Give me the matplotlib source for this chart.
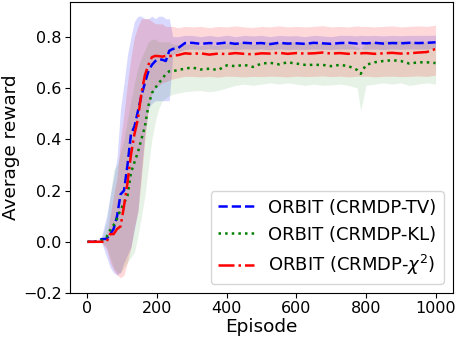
import numpy as np
import matplotlib
matplotlib.use("Agg")
import matplotlib.pyplot as plt

# Episodios (eje x)
episodes = [0, 20, 40, 55, 65, 75, 85, 95, 105, 115, 125, 135, 145, 155, 165,
            175, 185, 195, 205, 215, 225, 235, 245, 260, 280, 300, 325, 350,
            375, 400, 425, 450, 475, 500, 525, 550, 575, 600, 625, 650, 675,
            700, 725, 750, 775, 785, 800, 825, 850, 875, 900, 925, 950, 975, 1000]

# ORBIT (CRMDP-TV)
tv_mean = [0, 0, 0.01, 0.012, 0.03, 0.05, 0.10, 0.185, 0.20, 0.30, 0.42, 0.45,
           0.51, 0.57, 0.62, 0.665, 0.69, 0.705, 0.712, 0.71, 0.705, 0.745,
           0.752, 0.755, 0.775, 0.776, 0.772, 0.775, 0.773, 0.777, 0.772,
           0.776, 0.774, 0.775, 0.771, 0.776, 0.773, 0.774, 0.772, 0.776,
           0.774, 0.772, 0.775, 0.776, 0.773, 0.775, 0.774, 0.776, 0.773,
           0.775, 0.774, 0.776, 0.775, 0.776, 0.778]
tv_low = [0, 0, 0, -0.06, -0.10, -0.12, -0.13, -0.12, -0.08, -0.05, -0.02,
          0.05, 0.12, 0.28, 0.42, 0.52, 0.54, 0.55, 0.55, 0.55, 0.55, 0.55,
          0.73, 0.74, 0.75, 0.752, 0.75, 0.752, 0.75, 0.753, 0.75, 0.752,
          0.751, 0.752, 0.749, 0.752, 0.75, 0.751, 0.75, 0.752, 0.751, 0.75,
          0.752, 0.752, 0.75, 0.752, 0.751, 0.752, 0.75, 0.752, 0.751, 0.752,
          0.752, 0.752, 0.754]
tv_high = [0, 0, 0.02, 0.10, 0.18, 0.25, 0.33, 0.52, 0.62, 0.73, 0.80, 0.86,
           0.88, 0.88, 0.87, 0.87, 0.88, 0.87, 0.88, 0.88, 0.87, 0.87, 0.80,
           0.80, 0.805, 0.805, 0.80, 0.805, 0.80, 0.806, 0.80, 0.805, 0.803,
           0.805, 0.80, 0.805, 0.803, 0.804, 0.80, 0.805, 0.803, 0.80, 0.805,
           0.805, 0.803, 0.805, 0.804, 0.805, 0.803, 0.805, 0.804, 0.805,
           0.805, 0.805, 0.806]

# ORBIT (CRMDP-KL)
kl_mean = [0, 0, 0.005, 0.02, 0.045, 0.065, 0.09, 0.125, 0.15, 0.18, 0.27,
           0.31, 0.35, 0.40, 0.45, 0.53, 0.58, 0.60, 0.62, 0.635, 0.655,
           0.665, 0.665, 0.67, 0.675, 0.68, 0.672, 0.675, 0.67, 0.688, 0.685,
           0.69, 0.682, 0.695, 0.698, 0.692, 0.70, 0.695, 0.69, 0.69, 0.69,
           0.685, 0.69, 0.685, 0.67, 0.655, 0.69, 0.70, 0.705, 0.708, 0.705,
           0.695, 0.70, 0.70, 0.697]
kl_low = [0, 0, 0, -0.02, -0.06, -0.10, -0.12, -0.12, -0.10, -0.08, -0.06,
          -0.04, 0.02, 0.10, 0.18, 0.29, 0.40, 0.47, 0.52, 0.55, 0.56, 0.57,
          0.575, 0.58, 0.585, 0.588, 0.59, 0.585, 0.59, 0.60, 0.61, 0.615,
          0.61, 0.615, 0.62, 0.615, 0.62, 0.615, 0.61, 0.615, 0.61, 0.612,
          0.615, 0.61, 0.60, 0.51, 0.61, 0.615, 0.62, 0.615, 0.62, 0.61,
          0.615, 0.62, 0.615]
kl_high = [0, 0, 0.01, 0.08, 0.18, 0.28, 0.30, 0.35, 0.40, 0.48, 0.55, 0.62,
           0.68, 0.72, 0.75, 0.78, 0.79, 0.79, 0.78, 0.78, 0.78, 0.78, 0.77,
           0.77, 0.77, 0.77, 0.765, 0.77, 0.765, 0.775, 0.775, 0.78, 0.77,
           0.78, 0.78, 0.775, 0.78, 0.78, 0.775, 0.775, 0.775, 0.77, 0.775,
           0.77, 0.76, 0.75, 0.775, 0.78, 0.785, 0.785, 0.785, 0.78, 0.78,
           0.78, 0.78]

# ORBIT (CRMDP-chi^2)
chi_mean = [0, 0, 0, 0, 0.03, 0.03, 0.05, 0.06, 0.14, 0.23, 0.34, 0.42,
            0.48, 0.58, 0.65, 0.69, 0.72, 0.725, 0.724, 0.722, 0.725, 0.724,
            0.726, 0.728, 0.735, 0.733, 0.735, 0.73, 0.734, 0.732, 0.736,
            0.733, 0.731, 0.735, 0.734, 0.737, 0.733, 0.736, 0.734, 0.735,
            0.738, 0.734, 0.736, 0.733, 0.737, 0.735, 0.736, 0.733, 0.735,
            0.737, 0.734, 0.735, 0.738, 0.74, 0.752]
chi_low = [0, 0, 0, -0.03, -0.08, -0.11, -0.13, -0.14, -0.13, -0.08, -0.02,
           0.06, 0.12, 0.25, 0.40, 0.52, 0.58, 0.60, 0.61, 0.62, 0.625, 0.63,
           0.635, 0.64, 0.645, 0.645, 0.643, 0.645, 0.642, 0.646, 0.645,
           0.643, 0.645, 0.644, 0.646, 0.645, 0.643, 0.646, 0.644, 0.645,
           0.647, 0.644, 0.646, 0.643, 0.646, 0.645, 0.646, 0.643, 0.645,
           0.646, 0.644, 0.645, 0.647, 0.645, 0.65]
chi_high = [0, 0, 0, 0.02, 0.10, 0.18, 0.25, 0.40, 0.50, 0.62, 0.72, 0.80,
            0.84, 0.87, 0.87, 0.87, 0.86, 0.85, 0.85, 0.85, 0.84, 0.84, 0.84,
            0.835, 0.84, 0.838, 0.84, 0.835, 0.84, 0.838, 0.842, 0.838, 0.836,
            0.84, 0.838, 0.842, 0.838, 0.84, 0.838, 0.84, 0.843, 0.838, 0.84,
            0.838, 0.842, 0.84, 0.84, 0.838, 0.84, 0.842, 0.838, 0.84, 0.842,
            0.84, 0.845]

labels = ['ORBIT (CRMDP-TV)', 'ORBIT (CRMDP-KL)', r'ORBIT (CRMDP-$\chi^2$)']

fig, ax = plt.subplots(figsize=(4.58, 3.4), dpi=100)

# Bandas de desviación
ax.fill_between(episodes, tv_low, tv_high, color='blue', alpha=0.15, linewidth=0)
ax.fill_between(episodes, kl_low, kl_high, color='green', alpha=0.1, linewidth=0)
ax.fill_between(episodes, chi_low, chi_high, color='red', alpha=0.15, linewidth=0)

# Curvas medias
ax.plot(episodes, tv_mean, color='blue', linestyle='--', linewidth=1.8, label=labels[0])
ax.plot(episodes, kl_mean, color='green', linestyle=':', linewidth=1.8, label=labels[1])
ax.plot(episodes, chi_mean, color='red', linestyle='-.', linewidth=1.8, label=labels[2])

ax.set_xlim(-50, 1050)
ax.set_ylim(-0.2, 0.935)
ax.set_xticks([0, 200, 400, 600, 800, 1000])
ax.set_yticks([-0.2, 0.0, 0.2, 0.4, 0.6, 0.8])
ax.tick_params(labelsize=11.5, pad=2.5)
ax.set_xlabel("Episode", fontsize=13.3, labelpad=1)
ax.set_ylabel("Average reward", fontsize=13.3, labelpad=2)
ax.legend(loc='lower right', fontsize=13)

fig.subplots_adjust(left=0.153, right=0.989, top=0.994, bottom=0.138)
fig.savefig("out.png", dpi=100)
